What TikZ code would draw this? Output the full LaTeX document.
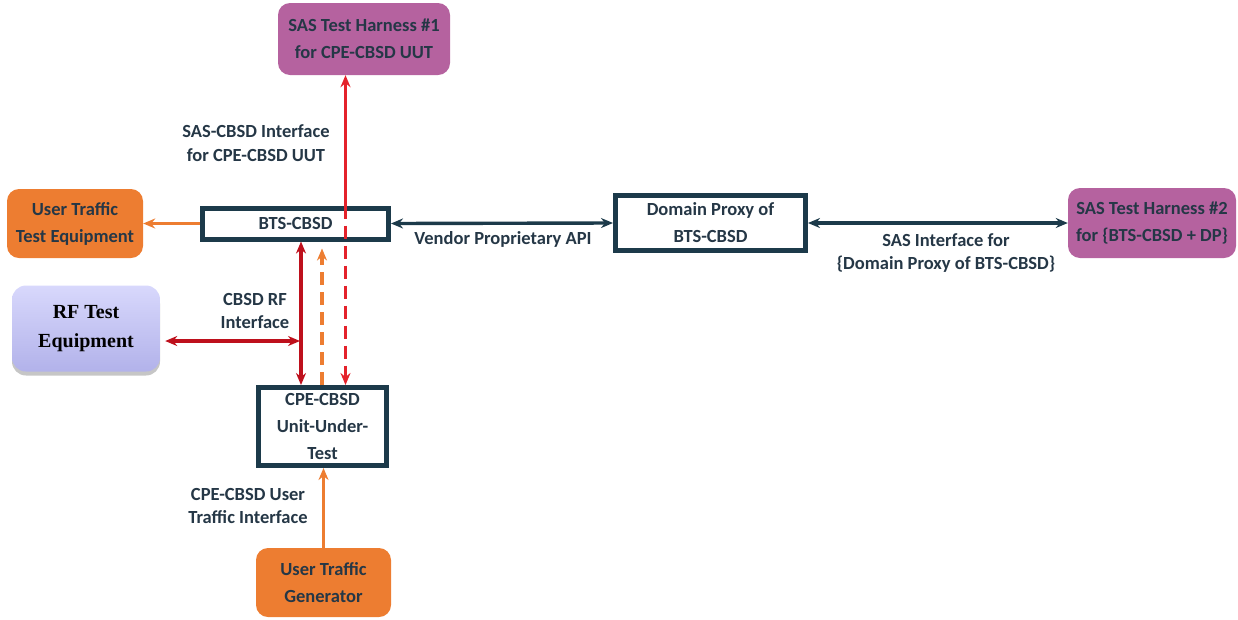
\documentclass[tikz,border=0pt]{standalone}
\usepackage{fontspec}
\setmainfont{Carlito}
\newfontfamily\rffont{Liberation Serif}
\usepackage{xcolor}
\usepackage{tikz}
\usetikzlibrary{positioning, arrows.meta, calc, shadows}
\definecolor{cbsd-navy}{HTML}{1C3A4A}
\definecolor{cbsd-text}{HTML}{253746}
\definecolor{cbsd-purple}{HTML}{B5629F}
\definecolor{cbsd-orange}{HTML}{ED7D31}
\definecolor{cbsd-red}{HTML}{E4222B}
\definecolor{cbsd-darkred}{HTML}{BE101C}
\definecolor{cbsd-lavtop}{HTML}{D8D8FC}
\definecolor{cbsd-lavbot}{HTML}{B2B2EA}

\begin{document}
\begin{tikzpicture}[x=1pt, y=-1pt,
    unit/.style={draw=cbsd-navy, line width=5pt, fill=white, text=cbsd-text, align=center,
                 font=\bfseries\fontsize{18.5}{27}\selectfont, inner sep=0pt},
    tool/.style={rounded corners=12pt, text=cbsd-text, align=center,
                 font=\bfseries\fontsize{18.5}{27}\selectfont, inner sep=0pt},
    lbl/.style={text=cbsd-text, align=center, font=\bfseries\fontsize{18.5}{23.5}\selectfont},
    arr/.style={-{Stealth[length=12pt, width=10pt]}, line width=3.4pt},
    darr/.style={{Stealth[length=12pt, width=10pt]}-{Stealth[length=12pt, width=10pt]}, line width=3.4pt},
]
    \useasboundingbox (0,0) rectangle (1238,619);

    % boxes
    \node[tool, fill=cbsd-purple, minimum width=172pt, minimum height=72pt] (h1) at (364, 39) {SAS Test Harness \#1\\for CPE-CBSD UUT};
    \node[tool, fill=cbsd-orange, minimum width=136pt, minimum height=69pt] (ute) at (75, 223.5) {User Traffic\\Test Equipment};
    \node[unit, minimum width=186pt, minimum height=31pt] (bts) at (295.5, 223.5) {BTS-CBSD};
    \node[unit, minimum width=190pt, minimum height=55pt] (dp) at (710.5, 223) {Domain Proxy of\\BTS-CBSD};
    \node[tool, fill=cbsd-purple, minimum width=168pt, minimum height=70pt] (h2) at (1152, 223) {SAS Test Harness \#2\\for \{BTS-CBSD + DP\}};
    \node[tool, top color=cbsd-lavtop, bottom color=cbsd-lavbot, rounded corners=14pt, text=black,
          font=\rffont\bfseries\fontsize{20}{29}\selectfont,
          drop shadow={shadow xshift=0pt, shadow yshift=-4pt, opacity=0.45},
          minimum width=148pt, minimum height=86pt] (rf) at (86, 328.5) {RF Test\\Equipment};
    \node[unit, minimum width=128pt, minimum height=78pt] (uut) at (322.5, 426.5) {CPE-CBSD\\Unit-Under-\\Test};
    \node[tool, fill=cbsd-orange, minimum width=135pt, minimum height=69pt] (gen) at (323.5, 582.5) {User Traffic\\Generator};

    % lanes between BTS and UUT
    \coordinate (laneA) at (301, 0);
    \coordinate (laneB) at (322, 0);
    \coordinate (laneC) at (345.5, 0);
    \coordinate (rfy) at (0, 341);

    % connectors
    \draw[arr, cbsd-orange] (bts.west) -- (ute.east);
    \draw[darr, cbsd-navy] (bts.east) -- (dp.west);
    \draw[darr, cbsd-navy] (dp.east) -- (h2.west);
    \draw[arr, cbsd-red] (bts.north -| laneC) -- (h1.south -| laneC);
    \draw[arr, cbsd-red, dash pattern=on 13pt off 7pt] (bts.north -| laneC) -- (uut.north -| laneC);
    \draw[darr, cbsd-darkred] (bts.south -| laneA) -- (uut.north -| laneA);
    \draw[darr, cbsd-darkred, shorten <=5pt, shorten >=1pt] (rf.east |- rfy) -- (laneA |- rfy);
    \draw[arr, cbsd-orange, dash pattern=on 13pt off 7pt, shorten >=7pt] (uut.north -| laneB) -- (bts.south -| laneB);
    \draw[arr, cbsd-orange] (gen.north) -- (gen.north |- uut.south);

    % labels
    \node[lbl] (sasif) at (256, 143) {SAS-CBSD Interface\\for CPE-CBSD UUT};
    \node[lbl] (vpapi) at (503, 239) {Vendor Proprietary API};
    \node[lbl] (dpif) at (946, 253) {SAS Interface for\\\{Domain Proxy of BTS-CBSD\}};
    \node[lbl] (rfif) at (255, 311) {CBSD RF\\Interface};
    \node[lbl] (utif) at (248, 506) {CPE-CBSD User\\Traffic Interface};
\end{tikzpicture}
\end{document}
